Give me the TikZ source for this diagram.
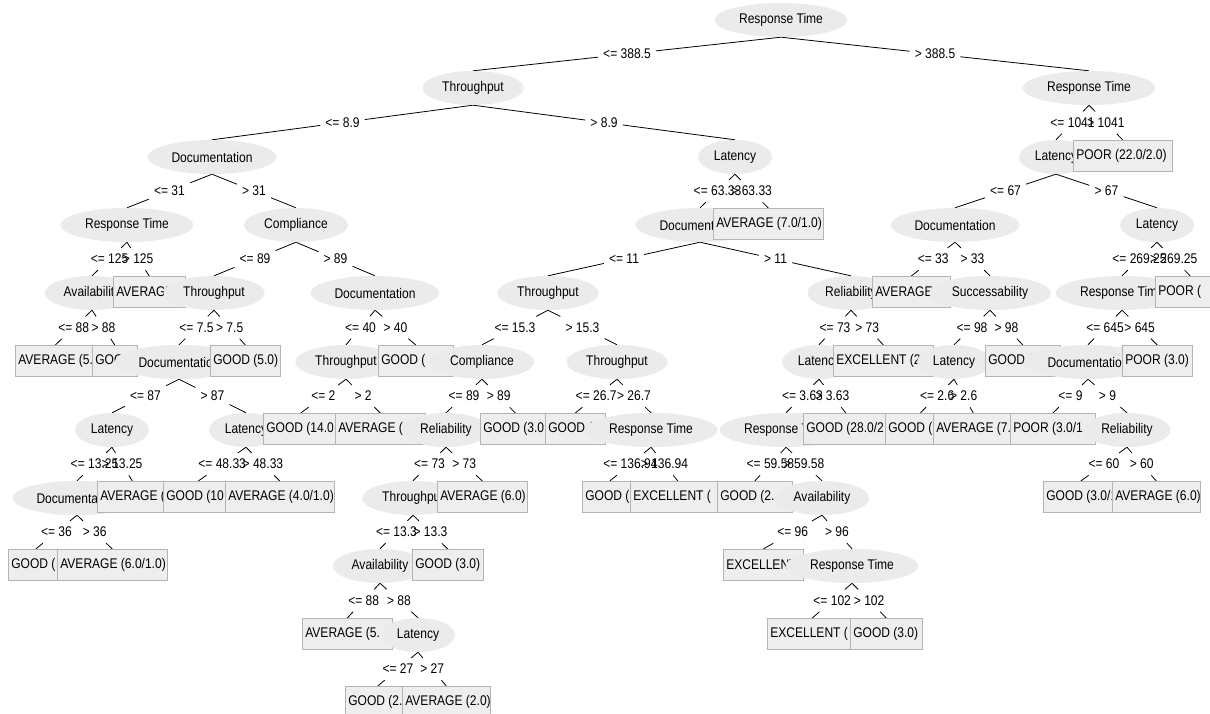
\documentclass[tikz,border=0pt]{standalone}
\usepackage{fontspec}
\setmainfont{Liberation Sans}[FakeStretch=0.86]
\usetikzlibrary{shapes.geometric,backgrounds}
\definecolor{attrfill}{HTML}{EBEBEB}
\definecolor{leaffill}{HTML}{EEEEEE}
\definecolor{leafline}{HTML}{B4B4B4}
\newcommand{\leaftext}[2]{\makebox[#1pt][l]{#2}}

\begin{document}
\begin{tikzpicture}[
    x=1pt, y=-1pt,
    font=\fontsize{14}{16}\selectfont,
    attr/.style={ellipse,fill=attrfill,inner xsep=5pt,inner ysep=0pt,minimum height=34pt},
    leaf/.style={rectangle,fill=leaffill,draw=leafline,line width=0.6pt,anchor=north west,inner xsep=3pt,inner ysep=0pt,minimum height=31pt},
    cond/.style={inner xsep=5pt,inner ysep=6pt},
    branch/.style={line width=0.8pt}
  ]
    \useasboundingbox (0,0) rectangle (1210,713);

    % level 0
    \node[attr] (root) at (781,20) {Response Time};

    % level 1
    \node[attr] (L) at (473,88) {Throughput};
    \node[attr] (R) at (1089,88) {Response Time};

    % level 2
    \node[attr] (LL) at (212,157) {Documentation};
    \node[attr] (LR) at (735,157) {Latency};
    \node[attr] (RL) at (1056,157) {Latency};
    \node[leaf] (RR) at (1073,140) {\leaftext{93}{POOR (22.0/2.0)}};

    % level 3
    \node[attr] (LLL) at (127,225) {Response Time};
    \node[attr] (LLR) at (296,225) {Compliance};
    \node[attr] (LRL) at (700,225) {Documentation};
    \node[leaf] (LRR) at (713,208) {\leaftext{104}{AVERAGE (7.0/1.0)}};
    \node[attr] (RLL) at (955,225) {Documentation};
    \node[attr] (RLR) at (1157,225) {Latency};

    % level 4
    \node[attr] (LLLL) at (92,293) {Availability};
    \node[leaf] (LLLR) at (113,276) {\leaftext{66}{AVERAGE}};
    \node[attr] (LLRL) at (214,293) {Throughput};
    \node[attr] (LLRR) at (375,293) {Documentation};
    \node[attr] (LRLL) at (548,293) {Throughput};
    \node[attr] (LRLR) at (851,293) {Reliability};
    \node[leaf] (RLLL) at (872,276) {\leaftext{72}{AVERAGE}};
    \node[attr] (RLLR) at (990,293) {Successability};
    \node[attr] (RLRL) at (1122,293) {Response Time};
    \node[leaf] (RLRR) at (1155,276) {\leaftext{64}{POOR (}};

    % level 5
    \node[leaf] (LLLLL) at (15,345) {\leaftext{74}{AVERAGE (5.}};
    \node[leaf] (LLLLR) at (92,345) {\leaftext{39}{GOOD (}};
    \node[attr] (LLRLL) at (179,362) {Documentation};
    \node[leaf] (LLRLR) at (210,345) {\leaftext{64}{GOOD (5.0)}};
    \node[attr] (LLRRL) at (346,362) {Throughput};
    \node[leaf] (LLRRR) at (378,345) {\leaftext{69}{GOOD (}};
    \node[attr] (LRLLL) at (482,362) {Compliance};
    \node[attr] (LRLLR) at (617,362) {Throughput};
    \node[attr] (LRLRL) at (819,362) {Latency};
    \node[leaf] (LRLRR) at (833,345) {\leaftext{94}{EXCELLENT (2}};
    \node[attr] (RLLRL) at (954,362) {Latency};
    \node[leaf] (RLLRR) at (985,345) {\leaftext{69}{GOOD (}};
    \node[attr] (RLRLL) at (1088,362) {Documentation};
    \node[leaf] (RLRLR) at (1122,345) {\leaftext{64}{POOR (3.0)}};

    % level 6
    \node[attr] (LLRLLL) at (112,430) {Latency};
    \node[attr] (LLRLLR) at (246,430) {Latency};
    \node[leaf] (LLRRLL) at (263,413) {\leaftext{69}{GOOD (14.0}};
    \node[leaf] (LLRRLR) at (335,413) {\leaftext{84}{AVERAGE (}};
    \node[attr] (LRLLLL) at (446,430) {Reliability};
    \node[leaf] (LRLLLR) at (480,413) {\leaftext{64}{GOOD (3.0}};
    \node[leaf] (LRLLRL) at (545,413) {\leaftext{54}{GOOD (}};
    \node[attr] (LRLLRR) at (651,430) {Response Time};
    \node[attr] (LRLRLL) at (786,430) {Response Time};
    \node[leaf] (LRLRLR) at (803,413) {\leaftext{79}{GOOD (28.0/2}};
    \node[leaf] (RLLRLL) at (885,413) {\leaftext{64}{GOOD (}};
    \node[leaf] (RLLRLR) at (933,413) {\leaftext{74}{AVERAGE (7.}};
    \node[leaf] (RLRLLL) at (1010,413) {\leaftext{79}{POOR (3.0/1}};
    \node[attr] (RLRLLR) at (1127,430) {Reliability};

    % level 7
    \node[attr] (LLRLLLL) at (77,498) {Documentation};
    \node[leaf] (LLRLLLR) at (97,481) {\leaftext{64}{AVERAGE (}};
    \node[leaf] (LLRLLRL) at (163,481) {\leaftext{64}{GOOD (10}};
    \node[leaf] (LLRLLRR) at (225,481) {\leaftext{103}{AVERAGE (4.0/1.0)}};
    \node[attr] (LRLLLLL) at (413,498) {Throughput};
    \node[leaf] (LRLLLLR) at (437,481) {\leaftext{84}{AVERAGE (6.0)}};
    \node[leaf] (LRLLRRL) at (582,481) {\leaftext{49}{GOOD (}};
    \node[leaf] (LRLLRRR) at (630,481) {\leaftext{89}{EXCELLENT (}};
    \node[leaf] (LRLRLLL) at (717,481) {\leaftext{69}{GOOD (2.}};
    \node[attr] (LRLRLLR) at (822,498) {Availability};
    \node[leaf] (RLRLLRL) at (1043,481) {\leaftext{69}{GOOD (3.0/1}};
    \node[leaf] (RLRLLRR) at (1112,481) {\leaftext{82}{AVERAGE (6.0)}};

    % level 8
    \node[leaf] (LLRLLLLL) at (8,549) {\leaftext{49}{GOOD (}};
    \node[leaf] (LLRLLLLR) at (57,549) {\leaftext{104}{AVERAGE (6.0/1.0)}};
    \node[attr] (LRLLLLLL) at (380,566) {Availability};
    \node[leaf] (LRLLLLLR) at (412,549) {\leaftext{65}{GOOD (3.0)}};
    \node[leaf] (LRLRLLRL) at (723,549) {\leaftext{74}{EXCELLENT}};
    \node[attr] (LRLRLLRR) at (852,566) {Response Time};

    % level 9
    \node[leaf] (LRLLLLLLL) at (302,618) {\leaftext{84}{AVERAGE (5.}};
    \node[attr] (LRLLLLLLR) at (418,635) {Latency};
    \node[leaf] (LRLRLLRRL) at (767,618) {\leaftext{84}{EXCELLENT (}};
    \node[leaf] (LRLRLLRRR) at (850,618) {\leaftext{66}{GOOD (3.0)}};

    % level 10
    \node[leaf] (LRLLLLLLRL) at (345,686) {\leaftext{59}{GOOD (2.}};
    \node[leaf] (LRLLLLLLRR) at (402,686) {\leaftext{82}{AVERAGE (2.0)}};

    % branches with their split values
    \begin{scope}[on background layer]
      \fill[white] (0,0) rectangle (1210,713);
      \foreach \pa/\ch/\lab in {
          root/L/{<= 388.5}, root/R/{> 388.5},
          L/LL/{<= 8.9}, L/LR/{> 8.9},
          R/RL/{<= 1041}, R/RR/{> 1041},
          LL/LLL/{<= 31}, LL/LLR/{> 31},
          LR/LRL/{<= 63.33}, LR/LRR/{> 63.33},
          RL/RLL/{<= 67}, RL/RLR/{> 67},
          LLL/LLLL/{<= 125}, LLL/LLLR/{> 125},
          LLR/LLRL/{<= 89}, LLR/LLRR/{> 89},
          LRL/LRLL/{<= 11}, LRL/LRLR/{> 11},
          RLL/RLLL/{<= 33}, RLL/RLLR/{> 33},
          RLR/RLRL/{<= 269.25}, RLR/RLRR/{> 269.25},
          LLLL/LLLLL/{<= 88}, LLLL/LLLLR/{> 88},
          LLRL/LLRLL/{<= 7.5}, LLRL/LLRLR/{> 7.5},
          LLRR/LLRRL/{<= 40}, LLRR/LLRRR/{> 40},
          LRLL/LRLLL/{<= 15.3}, LRLL/LRLLR/{> 15.3},
          LRLR/LRLRL/{<= 73}, LRLR/LRLRR/{> 73},
          RLLR/RLLRL/{<= 98}, RLLR/RLLRR/{> 98},
          RLRL/RLRLL/{<= 645}, RLRL/RLRLR/{> 645},
          LLRLL/LLRLLL/{<= 87}, LLRLL/LLRLLR/{> 87},
          LLRRL/LLRRLL/{<= 2}, LLRRL/LLRRLR/{> 2},
          LRLLL/LRLLLL/{<= 89}, LRLLL/LRLLLR/{> 89},
          LRLLR/LRLLRL/{<= 26.7}, LRLLR/LRLLRR/{> 26.7},
          LRLRL/LRLRLL/{<= 3.63}, LRLRL/LRLRLR/{> 3.63},
          RLLRL/RLLRLL/{<= 2.6}, RLLRL/RLLRLR/{> 2.6},
          RLRLL/RLRLLL/{<= 9}, RLRLL/RLRLLR/{> 9},
          LLRLLL/LLRLLLL/{<= 13.25}, LLRLLL/LLRLLLR/{> 13.25},
          LLRLLR/LLRLLRL/{<= 48.33}, LLRLLR/LLRLLRR/{> 48.33},
          LRLLLL/LRLLLLL/{<= 73}, LRLLLL/LRLLLLR/{> 73},
          LRLLRR/LRLLRRL/{<= 136.94}, LRLLRR/LRLLRRR/{> 136.94},
          LRLRLL/LRLRLLL/{<= 59.58}, LRLRLL/LRLRLLR/{> 59.58},
          RLRLLR/RLRLLRL/{<= 60}, RLRLLR/RLRLLRR/{> 60},
          LLRLLLL/LLRLLLLL/{<= 36}, LLRLLLL/LLRLLLLR/{> 36},
          LRLLLLL/LRLLLLLL/{<= 13.3}, LRLLLLL/LRLLLLLR/{> 13.3},
          LRLRLLR/LRLRLLRL/{<= 96}, LRLRLLR/LRLRLLRR/{> 96},
          LRLLLLLL/LRLLLLLLL/{<= 88}, LRLLLLLL/LRLLLLLLR/{> 88},
          LRLRLLRR/LRLRLLRRL/{<= 102}, LRLRLLRR/LRLRLLRRR/{> 102},
          LRLLLLLLR/LRLLLLLLRL/{<= 27}, LRLLLLLLR/LRLLLLLLRR/{> 27}} {
        \path (\pa.south) -- node[cond] (e-\ch) {\lab} (\ch.north);
        \draw[branch] (\pa.south) -- (e-\ch) -- (\ch.north);
      }
    \end{scope}
  \end{tikzpicture}
\end{document}
